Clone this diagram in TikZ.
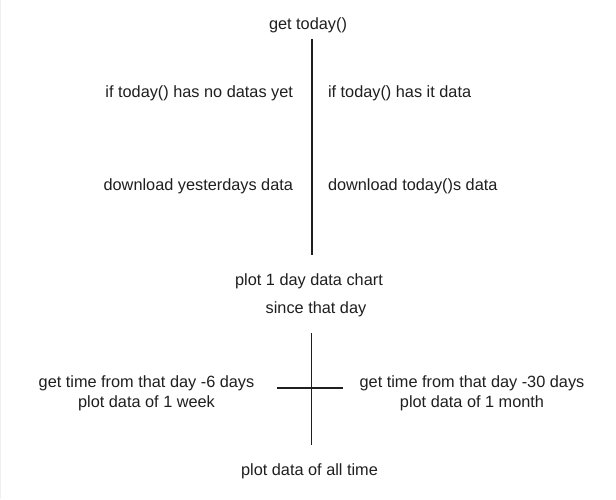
\documentclass[tikz,border=0pt]{standalone}
\usepackage{fontspec}
\setmainfont{Liberation Sans}
\begin{document}
\begin{tikzpicture}[x=1pt,y=-1pt,
  lbl/.style={inner sep=0pt,outer sep=0pt,text=black!88,font=\fontsize{16.3}{20}\selectfont},
  lbl2/.style={lbl,align=center},
  rule/.style={line width=1.6pt,draw=black!88}]
\useasboundingbox[fill=white] (0,0) rectangle (616,499);
\draw[gray!12,line width=1.2pt] (0.6,0) -- (0.6,499);
% texts
\node[lbl,anchor=base] (today) at (308,29) {get today()};
\node[lbl,anchor=base east] (nodata) at (293,97) {if today() has no datas yet};
\node[lbl,anchor=base west] (hasdata) at (328,97) {if today() has it data};
\node[lbl,anchor=base east] (yest) at (293,190) {download yesterdays data};
\node[lbl,anchor=base west] (todayd) at (328,190) {download today()s data};
\node[lbl,anchor=base] (plot1) at (309,285) {plot 1 day data chart};
\node[lbl,anchor=base] (since) at (316,313.5) {since that day};
\node[lbl2,anchor=base] (week) at (146.5,407) {get time from that day -6 days\\plot data of 1 week};
\node[lbl2,anchor=base] (month) at (472,407) {get time from that day -30 days\\plot data of 1 month};
\node[lbl,anchor=base] (all) at (309.5,475) {plot data of all time};
% line end points
\coordinate (v1top) at (312,39);
\coordinate (v1bot) at (312,255);
\coordinate (v2top) at (311.5,333);
\coordinate (v2bot) at (311.5,445);
\coordinate (hl) at (277,388);
\coordinate (hr) at (343,388);
\draw[rule] (v1top) -- (v1bot);
\draw[rule] (v2top) -- (v2bot);
\draw[rule] (hl) -- (hr);
\end{tikzpicture}
\end{document}
